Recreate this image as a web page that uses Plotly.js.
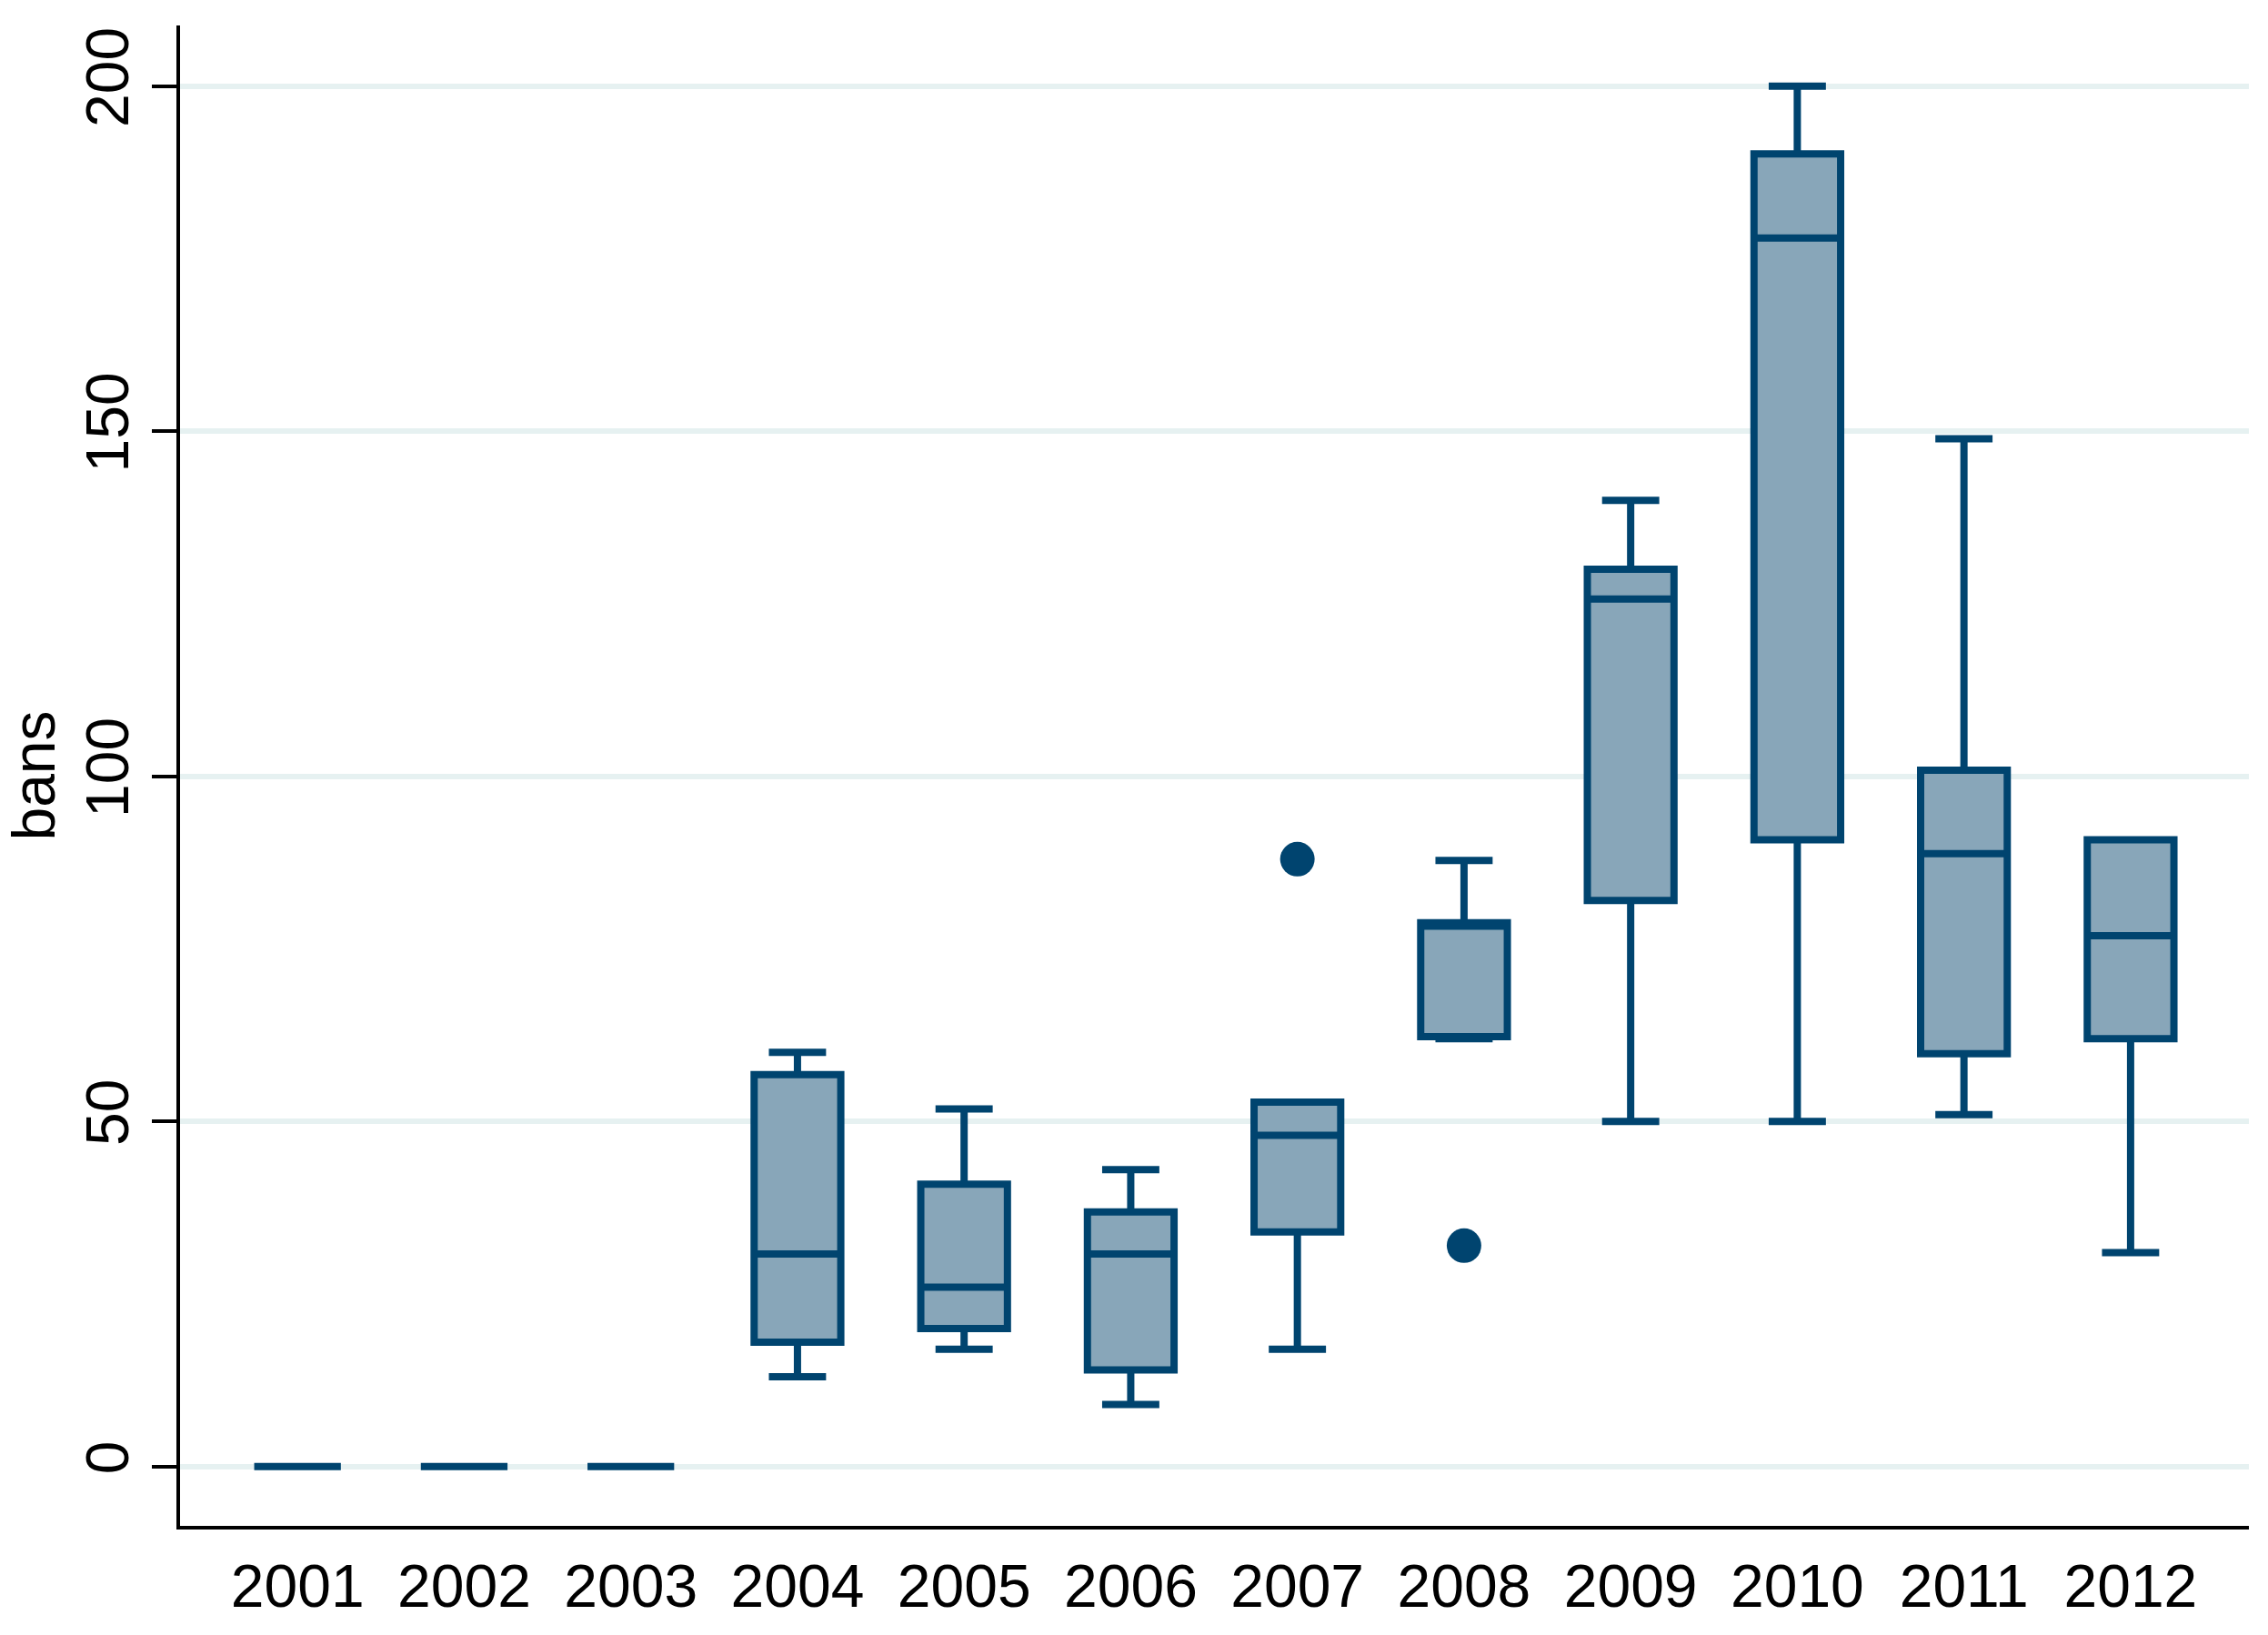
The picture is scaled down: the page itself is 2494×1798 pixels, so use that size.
<!DOCTYPE html>
<html>
<head>
<meta charset="utf-8">
<script src="https://cdn.plot.ly/plotly-3.0.1.min.js"></script>
<style>
  html, body { margin: 0; padding: 0; background: #fff; }
  #chart { width: 2494px; height: 1798px; }
</style>
</head>
<body>
<div id="chart"></div>
<script>
// box summaries per year
const YEARS = ['2001', '2002', '2003', '2004', '2005', '2006', '2007', '2008', '2009', '2010', '2011', '2012'];
const LOWER = [0, 0, 0, 13, 17, 9, 17, 62, 50, 50, 51, 31];
const Q1 = [0, 0, 0, 18, 20, 14, 34, 62.3, 82, 90.8, 59.8, 62];
const MEDIAN = [0, 0, 0, 30.8, 26, 30.8, 48, 78.3, 125.7, 178, 88.8, 76.9];
const Q3 = [0, 0, 0, 56.8, 40.9, 36.9, 52.8, 78.8, 130, 190.2, 100.9, 90.8];
const UPPER = [0, 0, 0, 60, 51.8, 43, 52.8, 87.8, 140, 200, 148.9, 90.8];

// outside values
const OUT_X = ['2007', '2008'];
const OUT_Y = [88, 32];

const LINE = '#00446f';
const FILL = '#88a6b9';
const FONT = { family: 'Liberation Sans, Arial, sans-serif', color: '#000', size: 66 };

const boxes = {
  type: 'box',
  x: YEARS,
  q1: Q1, median: MEDIAN, q3: Q3,
  lowerfence: LOWER, upperfence: UPPER,
  boxpoints: false,
  width: 0.52,
  whiskerwidth: 0.66,
  fillcolor: FILL,
  line: { color: LINE, width: 8 },
  hoverinfo: 'skip',
  showlegend: false,
};

const outliers = {
  type: 'scatter', mode: 'markers',
  x: OUT_X, y: OUT_Y,
  marker: { color: LINE, size: 38, line: { width: 0 } },
  hoverinfo: 'skip',
  showlegend: false,
};

const layout = {
  width: 2494, height: 1798,
  paper_bgcolor: '#fff', plot_bgcolor: '#fff',
  font: FONT,
  margin: { l: 198, r: 21, t: 28, b: 120 },
  xaxis: {
    type: 'category',
    categoryorder: 'array', categoryarray: YEARS,
    range: [-0.705, 11.71],
    showline: true, linecolor: '#000', linewidth: 4,
    showgrid: false, zeroline: false,
    ticks: '',
    ticklabelstandoff: 6,
    tickfont: FONT,
  },
  yaxis: {
    range: [-8.6, 208.8],
    tickvals: [0, 50, 100, 150, 200],
    ticktext: ['0', '50', '100', '150', '200'],
    tickangle: -90,
    showline: true, linecolor: '#000', linewidth: 4,
    ticks: 'outside', ticklen: 27, tickwidth: 4, tickcolor: '#000',
    ticklabelstandoff: 0,
    showgrid: true, gridcolor: '#e6f1f1', gridwidth: 6,
    zeroline: false,
    tickfont: FONT,
    title: { text: 'bans', font: FONT, standoff: 20 },
  },
};

Plotly.newPlot('chart', [boxes, outliers], layout, { displayModeBar: false, staticPlot: true });
</script>
</body>
</html>
